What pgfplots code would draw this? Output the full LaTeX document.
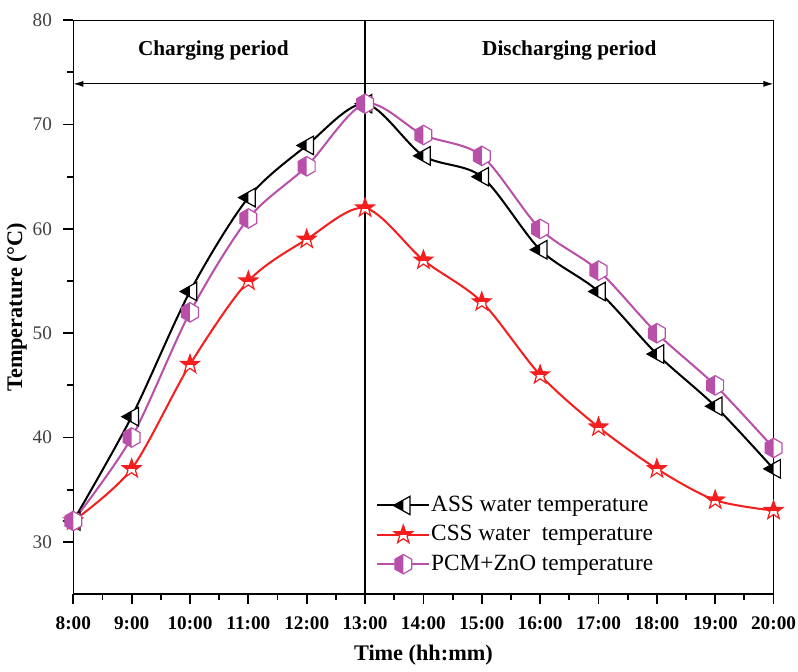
\documentclass[border=0pt]{standalone}
\usepackage{pgfplots}
\pgfplotsset{compat=1.18}
\usepackage{fontspec}
\setmainfont{Liberation Serif}
\usetikzlibrary{arrows.meta}

\definecolor{pcmcol}{RGB}{184,80,170}
\definecolor{csscol}{RGB}{245,30,30}

\newcommand\mkp[2]{\pgfqpoint{#1\pgfplotmarksize}{#2\pgfplotmarksize}}

% left-pointing triangle, left half filled
\newcommand\tripath{%
  \pgfpathmoveto{\mkp{-1}{0}}\pgfpathlineto{\mkp{0.7}{0.95}}%
  \pgfpathlineto{\mkp{0.7}{-0.95}}\pgfpathclose}
\pgfdeclareplotmark{halftri}{%
  \begin{pgfscope}\pgfsetfillcolor{white}\tripath\pgfusepath{fill}\end{pgfscope}%
  \begin{pgfscope}\pgfpathrectangle{\mkp{-2}{-2}}{\mkp{2}{4}}\pgfusepath{clip}%
    \tripath\pgfusepath{fill}\end{pgfscope}%
  \tripath\pgfusepath{stroke}}

% hexagon, left half filled
\newcommand\hexpath{%
  \pgfpathmoveto{\mkp{0}{1}}\pgfpathlineto{\mkp{-0.866}{0.5}}%
  \pgfpathlineto{\mkp{-0.866}{-0.5}}\pgfpathlineto{\mkp{0}{-1}}%
  \pgfpathlineto{\mkp{0.866}{-0.5}}\pgfpathlineto{\mkp{0.866}{0.5}}\pgfpathclose}
\pgfdeclareplotmark{halfhex}{%
  \begin{pgfscope}\pgfsetfillcolor{white}\hexpath\pgfusepath{fill}\end{pgfscope}%
  \begin{pgfscope}\pgfpathrectangle{\mkp{-2}{-2}}{\mkp{2}{4}}\pgfusepath{clip}%
    \hexpath\pgfusepath{fill}\end{pgfscope}%
  \hexpath\pgfusepath{stroke}}

% star, top half filled
\newcommand\starpath{%
  \pgfpathmoveto{\mkp{0}{1}}\pgfpathlineto{\mkp{-0.235}{0.324}}%
  \pgfpathlineto{\mkp{-0.951}{0.309}}\pgfpathlineto{\mkp{-0.380}{-0.124}}%
  \pgfpathlineto{\mkp{-0.588}{-0.809}}\pgfpathlineto{\mkp{0}{-0.4}}%
  \pgfpathlineto{\mkp{0.588}{-0.809}}\pgfpathlineto{\mkp{0.380}{-0.124}}%
  \pgfpathlineto{\mkp{0.951}{0.309}}\pgfpathlineto{\mkp{0.235}{0.324}}\pgfpathclose}
\pgfdeclareplotmark{halfstar}{%
  \begin{pgfscope}\pgfsetfillcolor{white}\starpath\pgfusepath{fill}\end{pgfscope}%
  \begin{pgfscope}\pgfpathrectangle{\mkp{-2}{0}}{\mkp{4}{2}}\pgfusepath{clip}%
    \starpath\pgfusepath{fill}\end{pgfscope}%
  \starpath\pgfusepath{stroke}}

\begin{document}
\begin{tikzpicture}
\begin{axis}[
  scale only axis,
  width=346pt, height=283.5pt,
  xmin=8, xmax=20, ymin=25, ymax=80,
  xtick={8,...,20},
  xticklabels={8:00,9:00,10:00,11:00,12:00,13:00,14:00,15:00,16:00,17:00,18:00,19:00,20:00},
  ytick={30,40,...,80},
  minor x tick num=1, minor y tick num=1,
  tick pos=left,
  tick align=outside,
  major tick length=5pt, minor tick length=3pt,
  every tick/.style={black, line width=0.9pt},
  axis line style={line width=0.7pt},
  xticklabel style={font=\fontsize{9.5}{10}\selectfont\bfseries, inner sep=1pt, yshift=-5pt},
  yticklabel style={font=\fontsize{9.5}{10}\selectfont, text=black!75, xshift=-2pt},
  xlabel={\textbf{Time (hh:mm)}},
  ylabel={\textbf{Temperature (°C)}},
  label style={font=\fontsize{11}{12}\selectfont},
  xlabel style={yshift=-3pt},
  ylabel style={yshift=-4pt},
  /pgf/number format/assume math mode=true,
  legend style={draw=none, fill=none, at={(0.425,0.185)}, anchor=north west,
    font=\fontsize{11.5}{13}\selectfont, row sep=1.5pt,
    nodes={inner sep=1pt, text height=8.5pt, text depth=2.5pt},
    legend cell align=left},
  legend image code/.code={%
    \begin{pgfinterruptboundingbox}
    \draw[mark repeat=2,mark phase=2] plot coordinates {(0cm,0cm) (0.45cm,0cm) (0.9cm,0cm)};
    \end{pgfinterruptboundingbox}
    \path[draw=none, fill=none] (0cm,-3pt) rectangle (0.9cm,3pt);},
  mark size=4.8pt,
]
\addplot[black, line width=1pt, smooth, mark=halftri,
  mark options={fill=black, draw=black, line width=0.6pt}]
  coordinates {(8,32) (9,42) (10,54) (11,63) (12,68) (13,72) (14,67)
    (15,65) (16,58) (17,54) (18,48) (19,43) (20,37)};
\addlegendentry{ASS water temperature}
\addplot[csscol, line width=1pt, smooth, mark=halfstar,
  mark options={fill=csscol, draw=csscol, line width=0.6pt}]
  coordinates {(8,32) (9,37) (10,47) (11,55) (12,59) (13,62) (14,57)
    (15,53) (16,46) (17,41) (18,37) (19,34) (20,33)};
\addlegendentry{CSS water\ \ temperature}
\addplot[pcmcol, line width=1pt, smooth, mark=halfhex,
  mark options={fill=pcmcol, draw=pcmcol, line width=0.6pt}]
  coordinates {(8,32) (9,40) (10,52) (11,61) (12,66) (13,72) (14,69)
    (15,67) (16,60) (17,56) (18,50) (19,45) (20,39)};
\addlegendentry{PCM+ZnO temperature}

\draw[line width=0.6pt] (axis cs:13,25) -- (axis cs:13,80);
\draw[line width=0.6pt, {Latex[length=5pt,width=3pt]}-{Latex[length=5pt,width=3pt]}]
  (axis cs:8,73.9) -- (axis cs:20,73.9);
\node[font=\fontsize{10.5}{12}\selectfont\bfseries] at (axis cs:10.4,77.1) {Charging period};
\node[font=\fontsize{10.5}{12}\selectfont\bfseries] at (axis cs:16.5,77.1) {Discharging period};
\coordinate (tr) at (rel axis cs:1,1);
\end{axis}
\path ([yshift=10pt]tr);
\end{tikzpicture}
\end{document}
